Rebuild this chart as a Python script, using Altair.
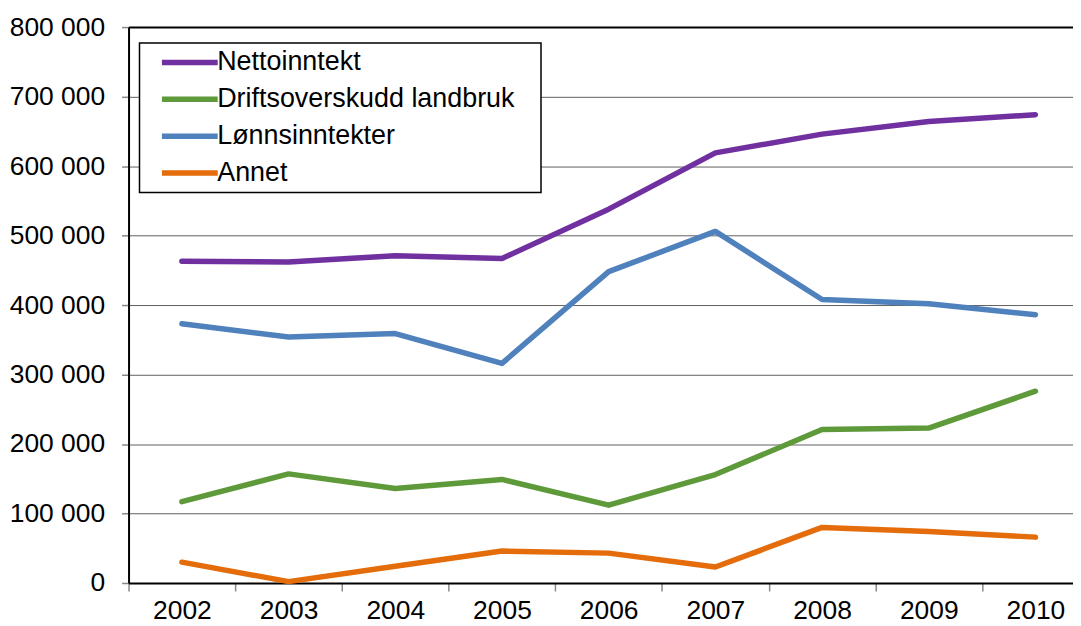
import altair as alt
import pandas as pd

years = [2002, 2003, 2004, 2005, 2006, 2007, 2008, 2009, 2010]
series_names = ["Nettoinntekt", "Driftsoverskudd landbruk", "Lønnsinntekter", "Annet"]
netto = [463000, 462000, 471000, 467000, 538000, 619000, 646000, 664000, 674000]
drift = [117000, 157000, 136000, 149000, 112000, 156000, 221000, 223000, 276000]
lonn = [373000, 354000, 359000, 316000, 448000, 506000, 408000, 402000, 386000]
annet = [30000, 2000, 24000, 46000, 43000, 23000, 80000, 74000, 66000]
colors = ["#7030A0", "#5E9A3A", "#4F81BD", "#E46C0A"]
y_ticks = [0, 100000, 200000, 300000, 400000, 500000, 600000, 700000, 800000]
x_ticks = [2001.5, 2002, 2002.5, 2003, 2003.5, 2004, 2004.5, 2005, 2005.5, 2006,
           2006.5, 2007, 2007.5, 2008, 2008.5, 2009, 2009.5, 2010]

rows = []
for name, vals in zip(series_names, [netto, drift, lonn, annet]):
    for yr, v in zip(years, vals):
        rows.append({"År": yr, "Verdi": v, "Serie": name})
df = pd.DataFrame(rows)

FONT = "Liberation Sans"

chart = alt.Chart(df).mark_line(strokeWidth=5.5, strokeCap="round", strokeJoin="round").encode(
    x=alt.X(
        "År:Q",
        scale=alt.Scale(domain=[2001.5, 2010.352], nice=False, zero=False),
        axis=alt.Axis(
            values=x_ticks, title=None, grid=False,
            labelExpr="floor(datum.value) === datum.value ? format(datum.value, 'd') : ''",
            tickColor={"condition": {"test": "floor(datum.value) === datum.value", "value": "transparent"},
                       "value": "#888888"},
            tickSize=8, tickWidth=1.5, labelPadding=7,
            domainColor="black", domainWidth=2,
            labelFontSize=26.5, labelFont=FONT, labelColor="black",
            labelOverlap=False, labelFlush=False,
        ),
    ),
    y=alt.Y(
        "Verdi:Q",
        scale=alt.Scale(domain=[0, 800000], nice=False),
        axis=alt.Axis(
            values=y_ticks, title=None, format=",d",
            labelExpr="replace(datum.label, ',', ' ')",
            tickColor="#888888", tickSize=7, tickWidth=1.5, labelPadding=17,
            domainColor="black", domainWidth=2,
            gridColor={"condition": {"test": "datum.value === 800000", "value": "black"},
                       "value": "#606060"},
            gridWidth={"condition": {"test": "datum.value === 800000", "value": 2},
                       "value": 1},
            labelFontSize=26.5, labelFont=FONT, labelColor="black",
            labelOverlap=False, labelFlush=False,
        ),
    ),
    color=alt.Color(
        "Serie:N",
        scale=alt.Scale(domain=series_names, range=colors),
        legend=alt.Legend(
            title=None, orient="none", legendX=11, legendY=16,
            symbolType="M-2.8,0L2.8,0", symbolSize=400, symbolStrokeWidth=5.5,
            symbolOffset=31,
            labelFontSize=27, labelFont=FONT, labelColor="black", labelLimit=0,
            labelExpr="datum.label + '\u2800'",
            labelOffset=14, rowPadding=9,
            strokeColor="black", fillColor="white", padding=6,
        ),
    ),
).properties(
    width=948, height=558,
    autosize=alt.AutoSizeParams(type="none"),
    padding={"left": 121, "top": 18, "right": 0, "bottom": 40},
).configure_view(stroke=None).configure_legend(strokeWidth=1.5)

chart.save("out.html", embed_options={"renderer": "svg", "actions": False})
